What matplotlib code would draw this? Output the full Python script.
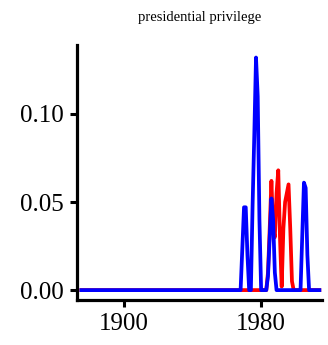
import numpy as np
import matplotlib

matplotlib.use("Agg")
import matplotlib.pyplot as plt

# yearly series, zero outside the window listed below
years = np.arange(1875, 2015)
win_start = 1965
blue_win = [0, 0, 0, 0, 0.024, 0.047, 0.047, 0.02, 0, 0,       # 1965-1974
            0.048, 0.088, 0.132, 0.11, 0.04, 0, 0, 0, 0, 0.008,  # 1975-1984
            0.03, 0.052, 0.04, 0.01, 0, 0, 0, 0, 0, 0,           # 1985-1994
            0, 0, 0, 0, 0, 0, 0, 0, 0, 0.03,                     # 1995-2003
            0.061, 0.058, 0.02, 0, 0, 0]                         # 2004-2009
red_win = [0, 0, 0, 0, 0, 0, 0, 0, 0, 0,
           0, 0, 0, 0, 0, 0, 0, 0, 0, 0.01,
           0.035, 0.062, 0.035, 0.03, 0.055, 0.068, 0.03, 0.002, 0.035, 0.05,
           0.055, 0.06, 0.035, 0.005, 0, 0, 0, 0, 0, 0,
           0, 0, 0, 0, 0, 0]

blue = np.zeros(len(years))
red = np.zeros(len(years))
i0 = win_start - years[0]
blue[i0:i0 + len(blue_win)] = blue_win
red[i0:i0 + len(red_win)] = red_win

title = "presidential privilege"
xticks = [1900, 1980]
yticks = [0.00, 0.05, 0.10]

plt.rcParams["font.family"] = "Liberation Serif"

fig = plt.figure(figsize=(3.28, 3.45), dpi=100)
ax = fig.add_axes([0.235, 0.130, 0.747, 0.740])

ax.plot(years, red, color="#ff0000", lw=2.7)
ax.plot(years, blue, color="#0000ff", lw=2.7)

ax.set_xlim(1872.5, 2015.6)
ax.set_ylim(-0.0057, 0.1392)
ax.set_xticks(xticks)
ax.set_yticks(yticks)
ax.set_yticklabels([f"{v:.2f}" for v in yticks])
ax.tick_params(labelsize=18, length=5, width=2.2)
ax.tick_params(axis="y", pad=4.3)
ax.tick_params(axis="x", pad=4.5)

for s in ("top", "right"):
    ax.spines[s].set_visible(False)
for s in ("left", "bottom"):
    ax.spines[s].set_linewidth(2.3)

fig.text(0.608, 0.95, title, ha="center", va="center", fontsize=10.5)

fig.savefig("out.png", dpi=100)
